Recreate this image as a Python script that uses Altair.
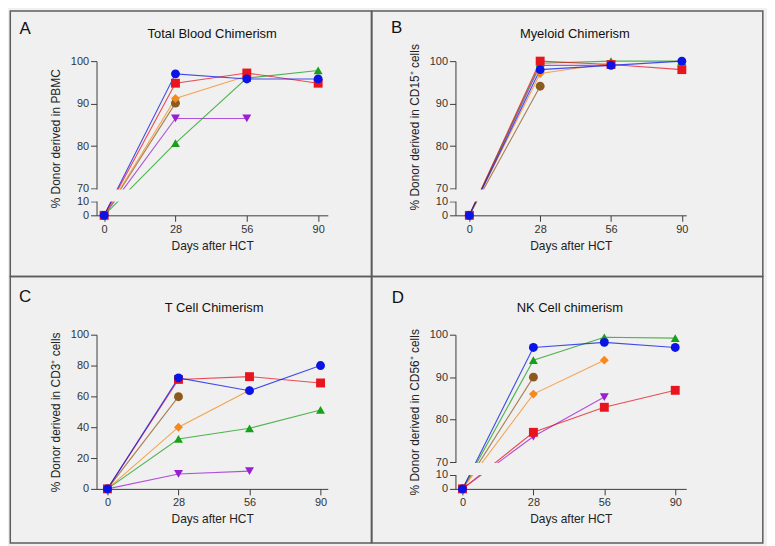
import altair as alt
import pandas as pd

# ---------------- data ----------------
days = [0, 28, 56, 90]
patients = ["Pt 1", "Pt 2", "Pt 3", "Pt 4", "Pt 5", "Pt 6"]
colors = ["#0a14e6", "#e8141e", "#18a018", "#9a1ed2", "#f5891e", "#8c5a1e"]
shapes = ["circle", "square", "triangle-up", "triangle-down", "diamond", "circle"]
draw_order = ["Pt 4", "Pt 6", "Pt 5", "Pt 3", "Pt 2", "Pt 1"]

total_blood = {
    "Pt 1": [0, 97.0, 95.8, 95.8],
    "Pt 2": [0, 94.8, 97.2, 94.8],
    "Pt 3": [0, 80.7, 96.0, 97.8],
    "Pt 4": [0, 86.5, 86.5, None],
    "Pt 5": [0, 91.2, 96.5, None],
    "Pt 6": [0, 90.1, None, None],
}
myeloid = {
    "Pt 1": [0, 98.0, 99.0, 100.0],
    "Pt 2": [0, 100.0, 99.2, 98.0],
    "Pt 3": [0, 99.5, 100.0, 100.0],
    "Pt 4": [0, 99.0, 99.0, None],
    "Pt 5": [0, 97.1, 99.5, None],
    "Pt 6": [0, 94.1, None, None],
}
t_cell = {
    "Pt 1": [0, 72.0, 63.7, 80.0],
    "Pt 2": [0, 71.0, 72.8, 68.7],
    "Pt 3": [0, 32.4, 39.3, 51.2],
    "Pt 4": [0, 9.7, 11.5, None],
    "Pt 5": [0, 40.0, 64.0, None],
    "Pt 6": [0, 59.8, None, None],
}
nk_cell = {
    "Pt 1": [0, 97.0, 98.2, 97.0],
    "Pt 2": [0, 77.0, 82.9, 86.9],
    "Pt 3": [0, 94.0, 99.4, 99.2],
    "Pt 4": [0, 76.0, 85.3, None],
    "Pt 5": [0, 86.0, 94.0, None],
    "Pt 6": [0, 90.0, None, None],
}

panel_titles = ["Total Blood Chimerism", "Myeloid Chimerism", "T Cell Chimerism", "NK Cell chimerism"]
panel_letters = ["A", "B", "C", "D"]
y_titles = [
    "% Donor derived in PBMC",
    "% Donor derived in CD15\u207a cells",
    "% Donor derived in CD3\u207a cells",
    "% Donor derived in CD56\u207a cells",
]
x_title = "Days after HCT"

# ---------------- style / layout ----------------
FONT = "Liberation Sans"
BG = "#f0f0f0"
BORDER = "#5c5c5c"
AXIS = "#3c3c3c"
W1, W2, H = 232.5, 232, 155
LOW_TOP, HIGH_BOT = 10, 70        # broken axis: 0-10 then 70-100
LOW_PX, GAP_PX = 14, 13
HIGH_PX = H - LOW_PX - GAP_PX


def disp(v, broken):
    if broken:
        return v * LOW_PX / LOW_TOP if v <= LOW_TOP else LOW_PX + GAP_PX + (v - HIGH_BOT) * HIGH_PX / (100 - HIGH_BOT)
    return v * H / 100


def long_frame(values):
    rows = []
    for p in draw_order:
        for d, v in zip(days, values[p]):
            if v is not None:
                rows.append({"patient": p, "day": d, "value": v})
    return pd.DataFrame(rows)


def panel(values, idx, broken, width, pad, align, box, letter_pos, title_dx, ytitle_y=None):
    df = long_frame(values)
    if broken:
        expr = (f"datum.value <= {LOW_TOP} ? datum.value * {LOW_PX / LOW_TOP} : "
                f"{LOW_PX + GAP_PX} + (datum.value - {HIGH_BOT}) * {HIGH_PX / (100 - HIGH_BOT)}")
        tick_vals = [0, 10, 70, 80, 90, 100]
        label_expr = (f"'' + (datum.value <= {LOW_PX + 0.5} ? round(datum.value * {LOW_TOP / LOW_PX}) : "
                      f"round({HIGH_BOT} + (datum.value - {LOW_PX + GAP_PX}) * {(100 - HIGH_BOT) / HIGH_PX}))")
    else:
        expr = f"datum.value * {H / 100}"
        tick_vals = [0, 20, 40, 60, 80, 100]
        label_expr = f"'' + round(datum.value * {100 / H})"
    tick_pos = [disp(v, broken) for v in tick_vals]

    axis_kw = dict(values=tick_pos, labelExpr=label_expr, title=y_titles[idx], grid=False)
    if ytitle_y is not None:
        axis_kw["titleY"] = ytitle_y
    x = alt.X("day:O", scale=alt.Scale(type="point", padding=pad, align=align),
              axis=alt.Axis(title=x_title, labelAngle=0, titlePadding=6))
    y = alt.Y("disp:Q", scale=alt.Scale(domain=[0, H], nice=False, zero=False),
              axis=alt.Axis(**axis_kw))
    color = alt.Color("patient:N", scale=alt.Scale(domain=patients, range=colors), legend=None)
    shape = alt.Shape("patient:N", scale=alt.Scale(domain=patients, range=shapes), legend=None)

    base = alt.Chart(df).transform_calculate(disp=expr)
    lines = base.mark_line(strokeWidth=1.1, opacity=0.75).encode(x=x, y=y, color=color)
    points = base.mark_point(filled=True, opacity=1, size=80).encode(x=x, y=y, color=color, shape=shape)

    one = pd.DataFrame({"title": [panel_titles[idx]], "letter": [panel_letters[idx]]})
    frame = alt.Chart(one).mark_rect(fill="transparent", stroke=BORDER, strokeWidth=1.5).encode(
        x=alt.value(box[0]), x2=alt.value(box[1]), y=alt.value(box[2]), y2=alt.value(box[3]))
    title = alt.Chart(one).mark_text(font=FONT, fontSize=13, color="#111", align="center",
                                     baseline="middle").encode(
        text="title:N", x=alt.value(width / 2 + title_dx), y=alt.value(-27))
    letter = alt.Chart(one).mark_text(font=FONT, fontSize=17, color="#111", align="center",
                                      baseline="middle").encode(
        text="letter:N", x=alt.value(letter_pos[0]), y=alt.value(letter_pos[1]))

    layers = [frame, lines]
    if broken:
        mask = alt.Chart(one).mark_rect(fill=BG).encode(
            x=alt.value(-6), x2=alt.value(width + 6),
            y=alt.value(H - LOW_PX - GAP_PX + 1), y2=alt.value(H - LOW_PX))
        layers.append(mask)
    layers += [points, title, letter]
    return alt.layer(*layers).properties(width=width, height=H)


pa = panel(total_blood, 0, True, W1, 0.121, 0.44, (-86.7, 276.3, -50.5, 216.5), (-71.7, -32.5), 0)
pb = panel(myeloid, 1, True, W2, 0.129, 0.76, (-84, 309, -50.5, 216.5), (-59, -33), 4, ytitle_y=66)
pc = panel(t_cell, 2, False, W1, 0.128, 0.6, (-86.7, 276.3, -58.5, 209.5), (-71.7, -37.5), 2)
pd_ = panel(nk_cell, 3, True, W2, 0.127, 0.39, (-84, 309, -58.5, 209.5), (-58, -37.2), -1)

chart = alt.concat(pa, pb, pc, pd_, columns=2, spacing={"row": 120, "column": 127.8},
                   bounds="flush").properties(
    background=BG, padding={"left": 1, "top": 0, "right": 2, "bottom": 1}
).configure_view(stroke="transparent").configure_axis(
    labelFont=FONT, titleFont=FONT, labelFontSize=11, titleFontSize=12,
    titleFontWeight="normal", labelColor="#333", titleColor="#222",
    domainColor=AXIS, tickColor=AXIS, tickSize=6, labelPadding=2, titlePadding=8,
)

chart.save("out.html", embed_options={"renderer": "svg", "actions": False})
